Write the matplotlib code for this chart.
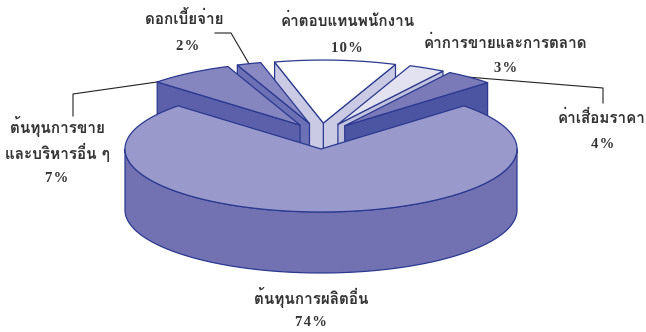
import numpy as np
import matplotlib
matplotlib.use("Agg")
import matplotlib.pyplot as plt
from matplotlib.patches import Polygon

# สัดส่วนค่าใช้จ่าย (%) เรียงทวนเข็มจากด้านขวาของชิ้นใหญ่
names = ["ค่าเสื่อมราคา", "ค่าการขายและการตลาด", "ค่าตอบแทนพนักงาน",
         "ดอกเบี้ยจ่าย", "ต้นทุนการขาย\nและบริหารอื่น ๆ", "ต้นทุนการผลิตอื่น"]
shares = [4, 3, 10, 2, 7, 74]

top_colors = ["#7a7ab9", "#e2e2f1", "#ffffff", "#8888c3", "#8585c0", "#9999cb"]
face_colors = ["#4b55a2", "#c2c2df", "#cacae4", "#6c70b4", "#5c60ab", "#7272b2"]
edge = "#2b3990"

W, H = 646, 332
fig = plt.figure(figsize=(W / 100, H / 100), dpi=100)
ax = fig.add_axes([0, 0, 1, 1])
ax.set_xlim(0, W)
ax.set_ylim(H, 0)
ax.axis("off")

cx, cy = 321, 135      # pie centre
rx, ry = 196, 63       # ellipse radii of the top face
depth = 61
explode = [0.19, 0.19, 0.19, 0.19, 0.19, 0.222]

deg = np.array(shares) / sum(shares) * 360
start = 270 + deg[-1] / 2 - 360          # big slice centred at the front
a1 = start + np.concatenate([[0], np.cumsum(deg)[:-1]])
a2 = a1 + deg
mid = (a1 + a2) / 2


def apex(i):
    m = np.radians(mid[i])
    return (cx + explode[i] * rx * np.cos(m), cy - explode[i] * ry * np.sin(m))


def rim(x0, y0, ang):
    r = np.radians(ang)
    return np.column_stack([x0 + rx * np.cos(r), y0 - ry * np.sin(r)])


def poly(pts, fc, z):
    ax.add_patch(Polygon(pts, closed=True, facecolor=fc, edgecolor=edge,
                         linewidth=0.9, joinstyle="round", zorder=z))


# small slices at the back, farthest first
small = sorted(range(5), key=lambda i: -np.sin(np.radians(mid[i])))
for z, i in enumerate(small):
    ox, oy = apex(i)
    faces = []
    if np.cos(np.radians(a1[i])) > 0:
        faces.append(a1[i])
    if np.cos(np.radians(a2[i])) < 0:
        faces.append(a2[i])
    for a in faces:
        px, py = rim(ox, oy, [a])[0]
        poly([(ox, oy), (px, py), (px, py + depth), (ox, oy + depth)],
             face_colors[i], 2 + 2 * z)
    arc = rim(ox, oy, np.linspace(a1[i], a2[i], 40))
    poly(np.vstack([[ox, oy], arc]), top_colors[i], 3 + 2 * z)

# big front slice: wall then top
ox, oy = apex(5)
front = rim(ox, oy, np.linspace(180, 360, 120))
wall = np.vstack([front, (front + [0, depth])[::-1]])
poly(wall, face_colors[5], 20)
arc = rim(ox, oy, np.linspace(a1[5], a2[5], 240))
poly(np.vstack([[ox, oy], arc]), top_colors[5], 21)

# labels
thai = dict(family=["Loma", "Noto Sans Thai Looped", "DejaVu Sans"],
            fontweight="bold", fontsize=11, color="#333333",
            ha="center", va="center", linespacing=1.4)
pct = dict(family=["Liberation Serif", "DejaVu Serif"], fontweight="bold",
           fontsize=10.5, color="#333333", ha="center", va="center")

name_xy = [(602, 118), (506, 43), (348, 21), (184, 19), (57, 139), (311, 298)]
pct_xy = [(603, 145), (506, 68), (347, 48), (188, 46), (57, 178), (311, 323)]
for i in range(6):
    ax.text(*name_xy[i], names[i], zorder=30, **thai)
    ax.text(*pct_xy[i], "\u200a".join(f"{shares[i]}%"), zorder=30, **pct)

# leader lines
lk = dict(color="#222222", linewidth=0.8, zorder=1)
ox, oy = apex(0)
end = rim(ox, oy, [mid[0]])[0]
ax.plot([603, 603, end[0]], [103, 88, end[1]], **lk)
ox, oy = apex(3)
end = rim(ox, oy, [mid[3]])[0]
ax.plot([215, 231, end[0]], [33, 33, end[1]], **lk)
ox, oy = apex(4)
end = rim(ox, oy, [a2[4]])[0]
ax.plot([73, 73, end[0]], [116, 94, end[1]], **lk)

fig.savefig("out.png", dpi=100)
